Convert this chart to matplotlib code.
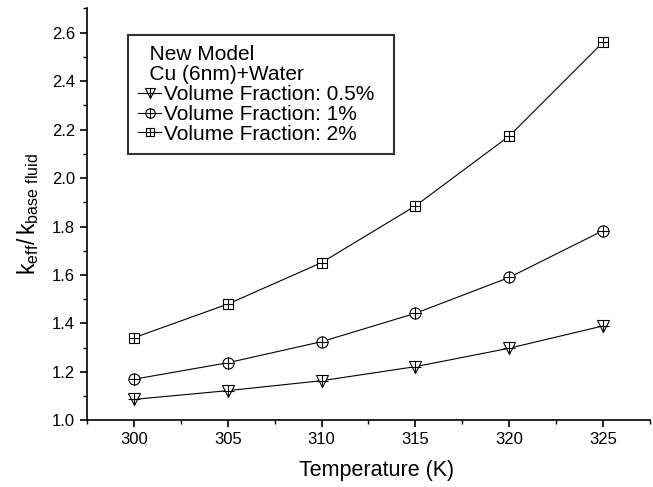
import matplotlib
matplotlib.use("Agg")
import matplotlib.pyplot as plt
from matplotlib.ticker import MultipleLocator
from matplotlib.legend_handler import HandlerTuple

plt.rcParams['font.family'] = ['Liberation Sans', 'DejaVu Sans']
plt.rcParams['mathtext.default'] = 'regular'

# data
temperature = [300, 305, 310, 315, 320, 325]
vf_05 = [1.087, 1.123, 1.164, 1.222, 1.298, 1.390]
vf_1 = [1.170, 1.238, 1.325, 1.442, 1.590, 1.783]
vf_2 = [1.341, 1.480, 1.651, 1.885, 2.173, 2.560]
labels = ["Volume Fraction: 0.5%", "Volume Fraction: 1%", "Volume Fraction: 2%"]

fig = plt.figure(figsize=(6.53, 4.87), dpi=100)
ax = fig.add_axes([0.1332, 0.1366, 0.8622, 0.8464])

series = [(vf_05, 'v', 8.5), (vf_1, 'o', 8), (vf_2, 's', 7)]
handles = []
for vals, mk, ms in series:
    ln, = ax.plot(temperature, vals, color='black', lw=0.8, marker=mk, ms=ms,
                  mfc='white', mec='black', mew=0.8)
    pl, = ax.plot(temperature, vals, ls='none', marker='+', ms=ms * 1.05,
                  color='black', mew=0.8)
    handles.append((ln, pl))

ax.set_xlim(297.5, 327.5)
ax.set_ylim(1.0, 2.7)
ax.xaxis.set_major_locator(MultipleLocator(5))
ax.xaxis.set_minor_locator(MultipleLocator(2.5))
ax.yaxis.set_major_locator(MultipleLocator(0.2))
ax.yaxis.set_minor_locator(MultipleLocator(0.1))
ax.yaxis.set_major_formatter(plt.FormatStrFormatter('%.1f'))

for side in ['top', 'right']:
    ax.spines[side].set_visible(False)
for side in ['left', 'bottom']:
    ax.spines[side].set_linewidth(1.2)
ax.tick_params(which='major', direction='out', length=5, width=1.2, labelsize=12)
ax.tick_params(which='minor', direction='out', length=3, width=1.0)

ax.set_xlabel("Temperature (K)", fontsize=15.5)
ax.xaxis.set_label_coords(0.515, -0.095)
ax.set_ylabel(r"$k_{eff}/\,k_{base\ fluid}$", fontsize=16.5, labelpad=8)

leg = ax.legend(handles, labels, handler_map={tuple: HandlerTuple(ndivide=1)},
                title="  New Model\n  Cu (6nm)+Water", alignment='left',
                loc='upper left', bbox_to_anchor=(0.0723, 0.5, 0.473, 0.435),
                mode='expand', borderaxespad=0,
                fontsize=15, title_fontsize=15, frameon=True, fancybox=False,
                edgecolor='black', handlelength=1.1, handletextpad=0.15,
                labelspacing=0.04, borderpad=0.5, markerscale=0.85)
leg.get_frame().set_linewidth(1.5)
leg.get_title().set_linespacing(1.05)

fig.savefig("out.png", dpi=100)
